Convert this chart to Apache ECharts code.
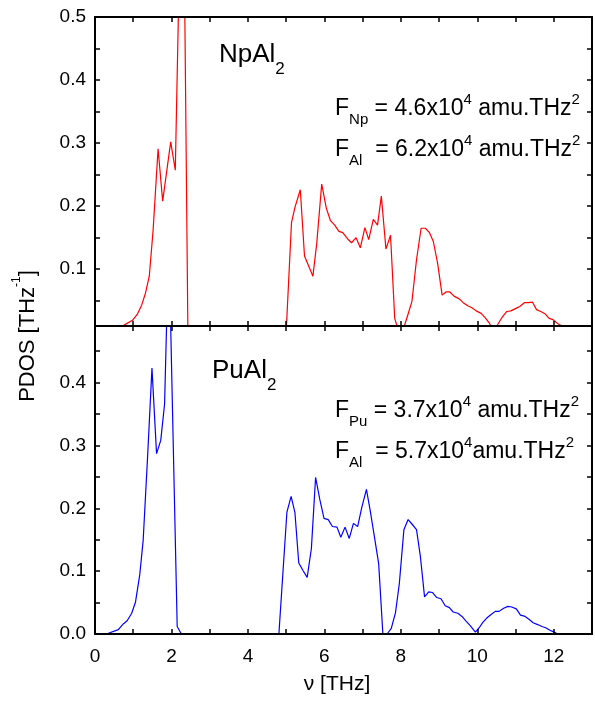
<!DOCTYPE html>
<html>
<head>
<meta charset="utf-8">
<title>PDOS NpAl2 / PuAl2</title>
<script src="https://cdn.jsdelivr.net/npm/echarts@6.0.0/dist/echarts.min.js"></script>
<style>
  html, body { margin: 0; padding: 0; background: #fff; }
  #chart { width: 595px; height: 701px; }
</style>
</head>
<body>
<div id="chart"></div>
<script>
// Phonon partial density of states, frequency in THz, PDOS in THz^-1
const freqNp = [0.62, 0.75, 0.98, 1.10, 1.22, 1.32, 1.42, 1.52, 1.65, 1.77, 1.98, 2.10, 2.21, 2.32, 2.43,
  5.00, 5.14, 5.23, 5.37, 5.48, 5.70, 5.80, 5.93, 6.05, 6.16, 6.27, 6.38, 6.48, 6.61, 6.71, 6.83, 6.94,
  7.06, 7.16, 7.28, 7.39, 7.49, 7.61, 7.73, 7.84, 7.95, 8.07, 8.18, 8.29, 8.41, 8.53, 8.64, 8.75, 8.85,
  8.96, 9.08, 9.18, 9.28, 9.40, 9.53, 9.63, 9.75, 9.86, 9.97, 10.10, 10.21, 10.31, 10.42, 10.53, 10.64,
  10.77, 10.88, 11.01, 11.11, 11.23, 11.34, 11.44, 11.55, 11.66, 11.78, 11.88, 11.98, 12.10, 12.21, 12.32];
const pdosNp = [0.0, 0.011, 0.019, 0.028, 0.043, 0.062, 0.089, 0.162, 0.291, 0.208, 0.302, 0.257, 0.59, 0.69, 0.0,
  0.0, 0.174, 0.198, 0.226, 0.121, 0.089, 0.141, 0.235, 0.197, 0.177, 0.170, 0.160, 0.158, 0.148, 0.142, 0.150, 0.134,
  0.166, 0.147, 0.179, 0.170, 0.216, 0.132, 0.154, 0.022, 0.0, 0.006, 0.027, 0.049, 0.115, 0.165, 0.165, 0.158, 0.144,
  0.110, 0.059, 0.064, 0.064, 0.057, 0.053, 0.047, 0.042, 0.039, 0.034, 0.030, 0.023, 0.015, 0.002, 0.012, 0.023,
  0.033, 0.034, 0.038, 0.041, 0.047, 0.047, 0.048, 0.036, 0.033, 0.029, 0.022, 0.020, 0.014, 0.010, 0.0];

const freqPu = [0.30, 0.61, 0.74, 0.84, 0.96, 1.06, 1.17, 1.26, 1.38, 1.49, 1.61, 1.72, 1.82, 1.93, 2.04, 2.15, 2.26,
  4.81, 5.02, 5.13, 5.23, 5.33, 5.44, 5.55, 5.66, 5.77, 5.88, 5.99, 6.10, 6.21, 6.33, 6.43, 6.54, 6.65, 6.76, 6.87,
  6.98, 7.10, 7.20, 7.31, 7.42, 7.53, 7.64, 7.75, 7.86, 7.96, 8.08, 8.19, 8.29, 8.41, 8.51, 8.62, 8.73, 8.83, 8.94,
  9.05, 9.16, 9.27, 9.37, 9.49, 9.60, 9.70, 9.82, 9.95, 10.05, 10.14, 10.24, 10.36, 10.47, 10.57, 10.69, 10.80, 10.90,
  11.02, 11.13, 11.25, 11.36, 11.46, 11.58, 11.69, 11.79, 11.90, 12.01, 12.10];
const pdosPu = [0.0, 0.007, 0.016, 0.021, 0.033, 0.051, 0.094, 0.149, 0.287, 0.423, 0.287, 0.308, 0.366, 0.63, 0.32, 0.012, 0.0,
  0.0, 0.194, 0.219, 0.193, 0.113, 0.101, 0.090, 0.136, 0.249, 0.214, 0.184, 0.182, 0.171, 0.170, 0.154, 0.170, 0.152, 0.176, 0.171,
  0.202, 0.230, 0.196, 0.154, 0.112, 0.0, 0.0, 0.009, 0.034, 0.080, 0.166, 0.182, 0.175, 0.166, 0.124, 0.059, 0.067, 0.066, 0.058,
  0.056, 0.045, 0.042, 0.035, 0.033, 0.028, 0.021, 0.013, 0.003, 0.010, 0.018, 0.025, 0.031, 0.036, 0.036, 0.041, 0.044, 0.043,
  0.040, 0.030, 0.028, 0.023, 0.018, 0.015, 0.012, 0.010, 0.006, 0.003, 0.0];

// Axis ticks and labels
const xTicks = [0, 1, 2, 3, 4, 5, 6, 7, 8, 9, 10, 11, 12, 13];
const xLabels = [0, 2, 4, 6, 8, 10, 12];
const yTicksTop = [0.05, 0.1, 0.15, 0.2, 0.25, 0.3, 0.35, 0.4, 0.45, 0.5];
const yLabelsTop = [0.1, 0.2, 0.3, 0.4, 0.5];
const yTicksBottom = [0, 0.05, 0.1, 0.15, 0.2, 0.25, 0.3, 0.35, 0.4, 0.45];
const yLabelsBottom = [0, 0.1, 0.2, 0.3, 0.4];

const FONT = '"Liberation Sans", Arial, Helvetica, sans-serif';
const BLACK = '#000';

function pairs(xs, ys) { return xs.map((x, i) => [x, ys[i]]); }

function xAxis(gridIndex, position, showLabels) {
  return {
    type: 'value', gridIndex, position, min: 0, max: 13, z: 5,
    axisLine: { show: true, onZero: false, lineStyle: { color: BLACK, width: 2 } },
    axisTick: { show: true, inside: true, length: 5, customValues: xTicks, lineStyle: { color: BLACK, width: 1.5 } },
    axisLabel: { show: showLabels, customValues: xLabels, color: BLACK, fontSize: 19, fontFamily: FONT, margin: 13 },
    splitLine: { show: false }
  };
}

function yAxis(gridIndex, position, min, max, ticks, labels) {
  return {
    type: 'value', gridIndex, position, min, max, z: 5,
    axisLine: { show: true, onZero: false, lineStyle: { color: BLACK, width: 2 } },
    axisTick: { show: true, inside: true, length: 5, customValues: ticks, lineStyle: { color: BLACK, width: 1.5 } },
    axisLabel: {
      show: !!labels, customValues: labels || [], color: BLACK, fontSize: 19, fontFamily: FONT, margin: 9,
      formatter: v => Number(v).toFixed(1)
    },
    splitLine: { show: false }
  };
}

const mainRich = {
  m: { fontSize: 26, fontFamily: FONT, fill: BLACK },
  s: { fontSize: 17, fontFamily: FONT, fill: BLACK, padding: [28, 0, 0, 0] },
  f: { fontSize: 23, fontFamily: FONT, fill: BLACK },
  fs: { fontSize: 15, fontFamily: FONT, fill: BLACK, padding: [22, 0, 0, 0] },
  fp: { fontSize: 15, fontFamily: FONT, fill: BLACK, padding: [0, 0, 18, 0] }
};

function label(x, y, text) {
  return { type: 'text', x, y, z: 10, style: { text, rich: mainRich, align: 'left', verticalAlign: 'middle' } };
}

const chart = echarts.init(document.getElementById('chart'), null, { renderer: 'canvas' });
chart.setOption({
  animation: false,
  backgroundColor: '#fff',
  grid: [
    { left: 95, top: 17, width: 497, height: 309 },
    { left: 95, top: 326, width: 497, height: 308 }
  ],
  xAxis: [
    xAxis(0, 'bottom', false),
    xAxis(0, 'top', false),
    xAxis(1, 'bottom', true),
    xAxis(1, 'top', false)
  ],
  yAxis: [
    yAxis(0, 'left', 0.01, 0.5, yTicksTop, yLabelsTop),
    yAxis(0, 'right', 0.01, 0.5, yTicksTop, null),
    yAxis(1, 'left', 0, 0.49, yTicksBottom, yLabelsBottom),
    yAxis(1, 'right', 0, 0.49, yTicksBottom, null)
  ],
  series: [
    {
      name: 'NpAl2', type: 'line', xAxisIndex: 0, yAxisIndex: 0, data: pairs(freqNp, pdosNp),
      showSymbol: false, symbol: 'none', clip: true, lineStyle: { color: '#ff0000', width: 1.2 }
    },
    {
      name: 'PuAl2', type: 'line', xAxisIndex: 2, yAxisIndex: 2, data: pairs(freqPu, pdosPu),
      showSymbol: false, symbol: 'none', clip: true, lineStyle: { color: '#0000ff', width: 1.2 }
    }
  ],
  graphic: [
    label(219, 55, '{m|NpAl}{s|2}'),
    label(335, 109, '{f|F}{fs|Np}{f| = 4.6x10}{fp|4}{f| amu.THz}{fp|2}'),
    label(335, 150, '{f|F}{fs|Al}{f|  = 6.2x10}{fp|4}{f| amu.THz}{fp|2}'),
    label(212, 371, '{m|PuAl}{s|2}'),
    label(335, 411, '{f|F}{fs|Pu}{f| = 3.7x10}{fp|4}{f| amu.THz}{fp|2}'),
    label(335, 452, '{f|F}{fs|Al}{f|  = 5.7x10}{fp|4}{f|amu.THz}{fp|2}'),
    {
      type: 'text', x: 28, y: 336, rotation: Math.PI / 2, z: 10,
      style: {
        text: '{t|PDOS [THz}{p|-1}{t|]}', align: 'center', verticalAlign: 'middle',
        rich: {
          t: { fontSize: 22, fontFamily: FONT, fill: BLACK },
          p: { fontSize: 12, fontFamily: FONT, fill: BLACK, padding: [0, 0, 22, 0] }
        }
      }
    },
    {
      type: 'text', x: 337, y: 684, z: 10,
      style: { text: 'ν [THz]', fontSize: 21, fontFamily: FONT, fill: BLACK, align: 'center', verticalAlign: 'middle' }
    }
  ]
});
</script>
</body>
</html>
